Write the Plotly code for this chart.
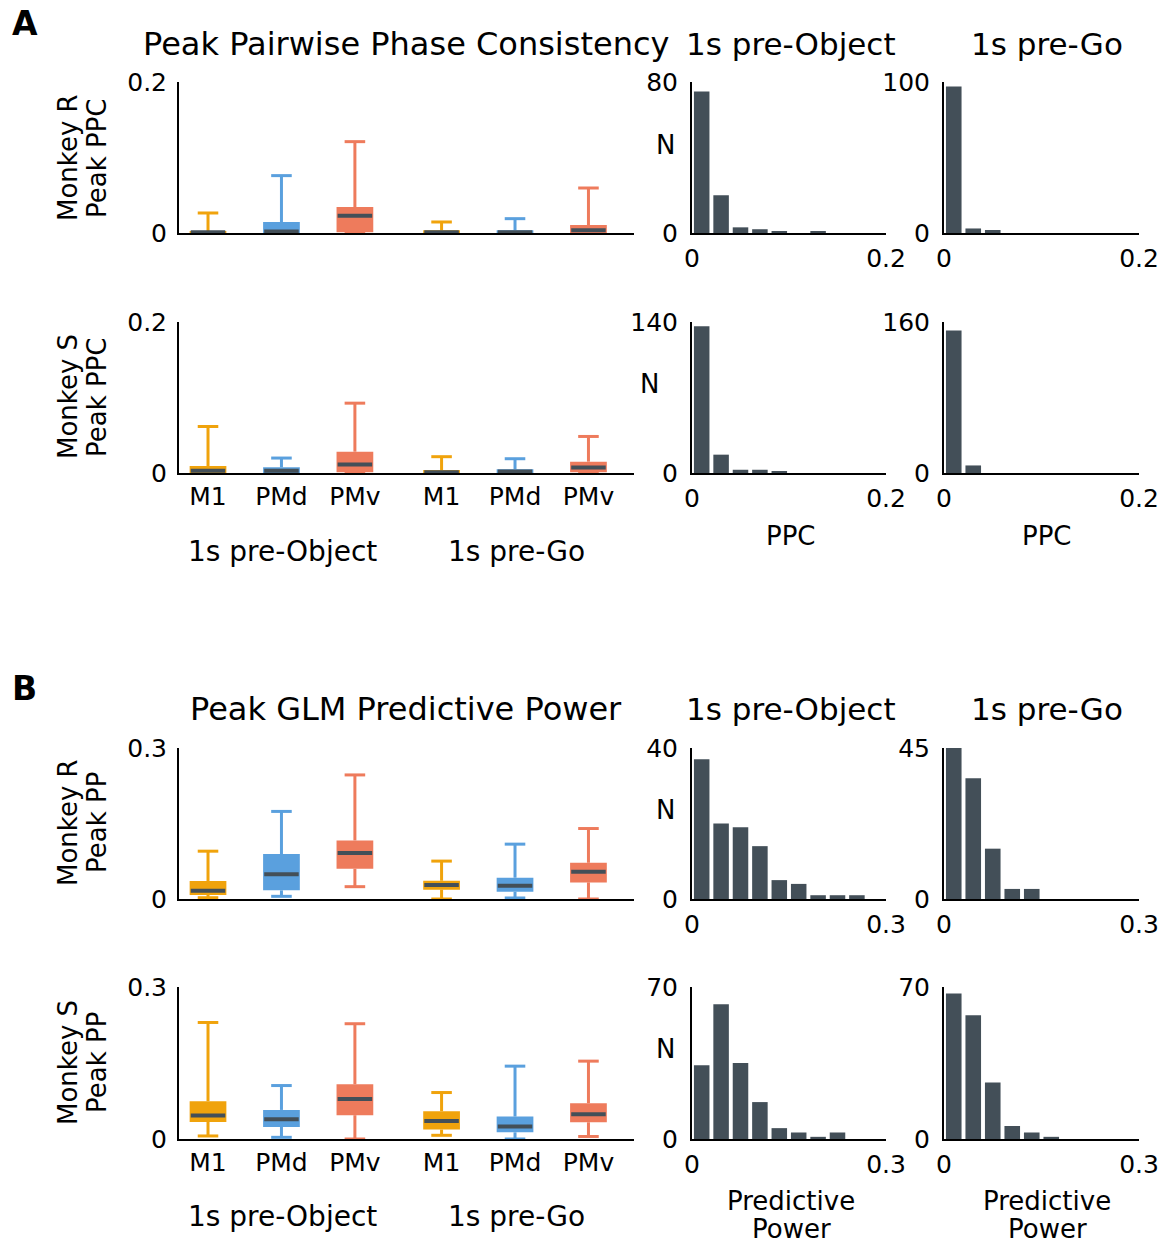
import plotly.graph_objects as go

W, H = 1171, 1243
FONT = "DejaVu Sans"

# ---------------- data ----------------
AREAS = ["M1", "PMd", "PMv", "M1", "PMd", "PMv"]
BOX_POS = [0, 1, 2, 3.18, 4.18, 5.18]
AREA_COLORS = {"M1": "#F0A30C", "PMd": "#5AA0DE", "PMv": "#EE7B5C"}
MEDIAN_COLOR = "#434F58"
HIST_COLOR = "#434F58"
GROUP_LABELS = ["1s pre-Object", "1s pre-Go"]

# Panel A: peak PPC, Monkey R
PPC_R_LO = [0, 0, 0, 0, 0, 0]
PPC_R_Q1 = [0, 0, 0.001, 0, 0, 0]
PPC_R_MED = [0.001, 0.002, 0.023, 0.001, 0.001, 0.0035]
PPC_R_Q3 = [0.002, 0.0146, 0.0344, 0.0035, 0.0035, 0.0106]
PPC_R_HI = [0.0265, 0.076, 0.121, 0.0146, 0.019, 0.0596]
# Panel A: peak PPC, Monkey S
PPC_S_LO = [0, 0, 0, 0, 0, 0]
PPC_S_Q1 = [0, 0, 0.001, 0, 0, 0.001]
PPC_S_MED = [0.003, 0.003, 0.0114, 0.001, 0.002, 0.0074]
PPC_S_Q3 = [0.0093, 0.0075, 0.0282, 0.004, 0.005, 0.015]
PPC_S_HI = [0.0616, 0.0198, 0.0925, 0.0216, 0.0189, 0.0484]
# Panel B: peak predictive power, Monkey R
PP_R_LO = [0.0026, 0.0053, 0.0245, 0, 0.002, 0]
PP_R_Q1 = [0.008, 0.0172, 0.060, 0.0185, 0.0145, 0.033]
PP_R_MED = [0.0165, 0.049, 0.0912, 0.0278, 0.0264, 0.054]
PP_R_Q3 = [0.0357, 0.0892, 0.1163, 0.0363, 0.0423, 0.072]
PP_R_HI = [0.095, 0.174, 0.2465, 0.0753, 0.109, 0.140]
# Panel B: peak predictive power, Monkey S
PP_S_LO = [0.006, 0.0033, 0, 0.0073, 0, 0.005]
PP_S_Q1 = [0.0336, 0.0237, 0.047, 0.0186, 0.0132, 0.033]
PP_S_MED = [0.0462, 0.039, 0.079, 0.0356, 0.0245, 0.0489]
PP_S_Q3 = [0.0746, 0.0574, 0.108, 0.0548, 0.0443, 0.0706]
PP_S_HI = [0.230, 0.1055, 0.2275, 0.0917, 0.1438, 0.1537]

# Histograms (counts per bin)
PPC_BIN_EDGES = [0, 0.02, 0.04, 0.06, 0.08, 0.10, 0.12, 0.14, 0.16, 0.18, 0.20]
PP_BIN_EDGES = [0, 0.03, 0.06, 0.09, 0.12, 0.15, 0.18, 0.21, 0.24, 0.27, 0.30]
HIST_PPC_R_OBJ = [75, 20, 3, 2, 1, 0, 1, 0, 0, 0]
HIST_PPC_R_GO = [97, 3, 2, 0, 0, 0, 0, 0, 0, 0]
HIST_PPC_S_OBJ = [136, 17, 3, 3, 1, 0, 0, 0, 0, 0]
HIST_PPC_S_GO = [151, 8, 0, 0, 0, 0, 0, 0, 0, 0]
HIST_PP_R_OBJ = [37, 20, 19, 14, 5, 4, 1, 1, 1, 0]
HIST_PP_R_GO = [45, 36, 15, 3, 3, 0, 0, 0, 0, 0]
HIST_PP_S_OBJ = [34, 62, 35, 17, 5, 3, 1, 3, 0, 0]
HIST_PP_S_GO = [67, 57, 26, 6, 3, 1, 0, 0, 0, 0]

# ---------------- helpers ----------------
def xdom(a, b):
    return [a / W, b / W]

def ydom(top, bottom):
    return [1 - bottom / H, 1 - top / H]

fig = go.Figure()
layout = {}
annotations = []
axis_n = [0]

def new_axes(xpx, ypx, xaxis, yaxis):
    axis_n[0] += 1
    n = axis_n[0]
    xa = dict(domain=xdom(*xpx), anchor="y%d" % n, showgrid=False, zeroline=False,
              showline=True, linecolor="black", linewidth=2, fixedrange=True,
              automargin=False)
    ya = dict(domain=ydom(*ypx), anchor="x%d" % n, showgrid=False, zeroline=False,
              showline=True, linecolor="black", linewidth=2, fixedrange=True,
              automargin=False)
    xa.update(xaxis)
    ya.update(yaxis)
    layout["xaxis%d" % n] = xa
    layout["yaxis%d" % n] = ya
    return "x%d" % n, "y%d" % n

TICKFONT = dict(family=FONT, size=25, color="black")

def box_panel(ypx, lo, q1, med, q3, hi, ymax, show_xlabels):
    xr, yr = new_axes(
        (179, 634), ypx,
        dict(range=[-0.395, 5.80], tickvals=BOX_POS if show_xlabels else [],
             ticktext=AREAS, ticks="", tickfont=TICKFONT, ticklabelstandoff=0),
        dict(range=[0, ymax], tickvals=[0, ymax], ticktext=["0", str(ymax)],
             ticks="", tickfont=TICKFONT, ticklabelstandoff=5),
    )
    cols = [AREA_COLORS[a] for a in AREAS]
    fig.add_trace(go.Bar(x=BOX_POS, base=q1, y=[b - a for a, b in zip(q1, q3)],
                         width=0.5, marker=dict(color=cols, line=dict(width=0)),
                         xaxis=xr, yaxis=yr, showlegend=False, hoverinfo="skip"))
    cap = 0.14
    for p, a, l, b1, b3, h in zip(BOX_POS, AREAS, lo, q1, q3, hi):
        fig.add_trace(go.Scatter(
            x=[p, p, None, p - cap, p + cap, None, p, p, None, p - cap, p + cap],
            y=[b3, h, None, h, h, None, l, b1, None, l, l],
            mode="lines", line=dict(color=AREA_COLORS[a], width=3),
            xaxis=xr, yaxis=yr, showlegend=False, hoverinfo="skip"))
    mx, my = [], []
    for p, m in zip(BOX_POS, med):
        mx += [p - 0.235, p + 0.235, None]
        my += [m, m, None]
    fig.add_trace(go.Scatter(x=mx, y=my, mode="lines",
                             line=dict(color=MEDIAN_COLOR, width=4),
                             xaxis=xr, yaxis=yr, showlegend=False, hoverinfo="skip"))

def hist_panel(xpx, ypx, edges, counts, ymax, xmax_label):
    xmax = edges[-1]
    xr, yr = new_axes(
        xpx, ypx,
        dict(range=[0, xmax], tickvals=[0, xmax], ticktext=["0", xmax_label],
             ticks="inside", ticklen=10, tickwidth=2, tickcolor="black",
             tickfont=TICKFONT, ticklabelstandoff=2),
        dict(range=[0, ymax], tickvals=[0, ymax], ticktext=["0", str(ymax)],
             ticks="inside", ticklen=10, tickwidth=2, tickcolor="black",
             tickfont=TICKFONT, ticklabelstandoff=7),
    )
    centers = [(a + b) / 2 for a, b in zip(edges[:-1], edges[1:])]
    bw = edges[1] - edges[0]
    fig.add_trace(go.Bar(x=centers, y=counts, width=bw * 0.8,
                         marker=dict(color=HIST_COLOR, line=dict(width=0)),
                         xaxis=xr, yaxis=yr, showlegend=False, hoverinfo="skip"))

def text(x, y, s, size=27, bold=False, angle=0, xanchor="center"):
    annotations.append(dict(
        x=x / W, y=1 - y / H, xref="paper", yref="paper", text=("<b>%s</b>" % s) if bold else s,
        showarrow=False, xanchor=xanchor, yanchor="middle", textangle=angle,
        font=dict(family=FONT, size=size, color="black")))

# ---------------- panels ----------------
A1 = (82, 233)
A2 = (322, 473)
B1 = (748, 899)
B2 = (987, 1139)
HL = (692, 886)
HR = (944, 1139)

box_panel(A1, PPC_R_LO, PPC_R_Q1, PPC_R_MED, PPC_R_Q3, PPC_R_HI, 0.2, False)
hist_panel(HL, A1, PPC_BIN_EDGES, HIST_PPC_R_OBJ, 80, "0.2")
hist_panel(HR, A1, PPC_BIN_EDGES, HIST_PPC_R_GO, 100, "0.2")
box_panel(A2, PPC_S_LO, PPC_S_Q1, PPC_S_MED, PPC_S_Q3, PPC_S_HI, 0.2, True)
hist_panel(HL, A2, PPC_BIN_EDGES, HIST_PPC_S_OBJ, 140, "0.2")
hist_panel(HR, A2, PPC_BIN_EDGES, HIST_PPC_S_GO, 160, "0.2")

box_panel(B1, PP_R_LO, PP_R_Q1, PP_R_MED, PP_R_Q3, PP_R_HI, 0.3, False)
hist_panel(HL, B1, PP_BIN_EDGES, HIST_PP_R_OBJ, 40, "0.3")
hist_panel(HR, B1, PP_BIN_EDGES, HIST_PP_R_GO, 45, "0.3")
box_panel(B2, PP_S_LO, PP_S_Q1, PP_S_MED, PP_S_Q3, PP_S_HI, 0.3, True)
hist_panel(HL, B2, PP_BIN_EDGES, HIST_PP_S_OBJ, 70, "0.3")
hist_panel(HR, B2, PP_BIN_EDGES, HIST_PP_S_GO, 70, "0.3")

# text
for top, letter, title in [(0, "A", "Peak Pairwise Phase Consistency"),
                           (665, "B", "Peak GLM Predictive Power")]:
    text(10, top + 23, letter, size=33, bold=True, xanchor="left")
    text(406, top + 44, title, size=32)
    text(791, top + 44, GROUP_LABELS[0], size=31)
    text(1047, top + 44, GROUP_LABELS[1], size=31)

for y, l1, l2 in [(158, "Monkey R", "Peak PPC"), (397, "Monkey S", "Peak PPC"),
                  (823, "Monkey R", "Peak PP"), (1063, "Monkey S", "Peak PP")]:
    text(68, y, l1, size=26, angle=-90)
    text(97, y, l2, size=26, angle=-90)

for y in [551, 1216]:
    text(282, y, GROUP_LABELS[0], size=28)
    text(516, y, GROUP_LABELS[1], size=28)

text(791, 536, "PPC", size=26)
text(1047, 536, "PPC", size=26)
for x in [791, 1047]:
    text(x, 1201, "Predictive", size=26)
    text(x, 1229, "Power", size=26)

for x, y in [(665, 145), (649, 384), (665, 810), (665, 1049)]:
    text(x, y, "N", size=26)

fig.update_layout(
    width=W, height=H, margin=dict(l=0, r=0, t=0, b=0, autoexpand=False),
    paper_bgcolor="white", plot_bgcolor="white",
    barmode="overlay", annotations=annotations, **layout,
)

POST = """
(function(){
  var de = document.documentElement, b = document.body;
  de.style.margin = '0'; de.style.padding = '0'; de.style.overflow = 'hidden';
  b.style.margin = '0'; b.style.padding = '0'; b.style.overflow = 'hidden';
  var gd = document.getElementById('{plot_id}');
  if (gd) {
    var p = gd.parentElement;
    p.style.position = 'fixed'; p.style.left = '0px'; p.style.top = '0px';
    p.style.width = '%dpx'; p.style.height = '%dpx'; p.style.overflow = 'hidden';
    gd.style.overflow = 'hidden';
  }
})();
""" % (W, H)

fig.write_html("out.html", config={"displayModeBar": False}, post_script=POST)
